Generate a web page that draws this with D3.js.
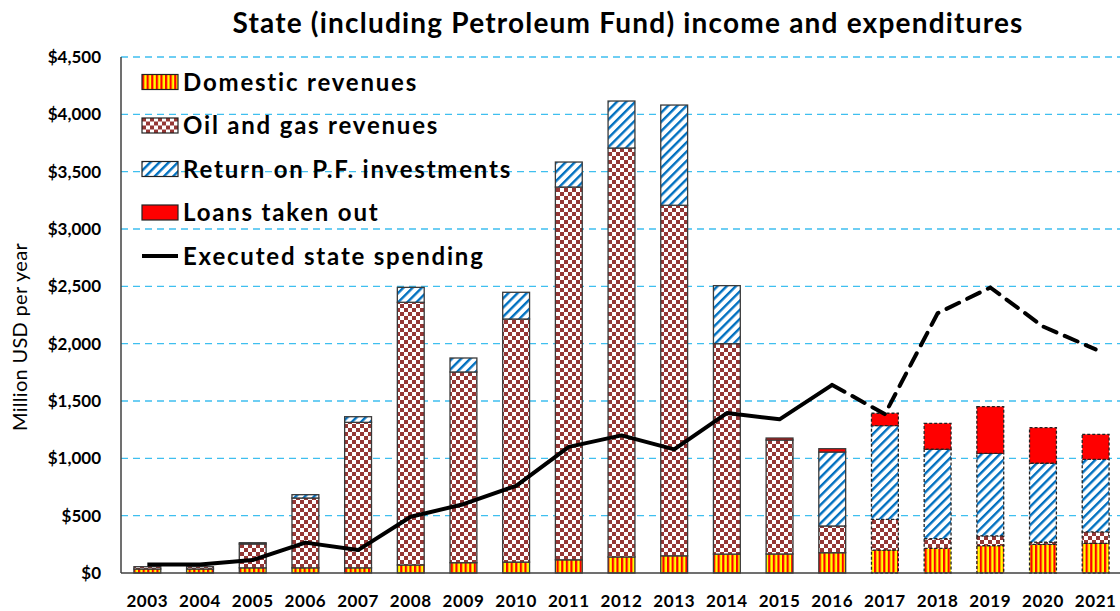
<!DOCTYPE html>
<html>
<head>
<meta charset="utf-8">
<script src="https://cdn.jsdelivr.net/npm/d3@7"></script>
<style>
  body { margin: 0; background: #fff; }
  svg { font-family: Lato, "Open Sans", sans-serif; }
</style>
</head>
<body>
<svg width="1120" height="611"></svg>
<script>
// data (million USD)
const years = ["2003","2004","2005","2006","2007","2008","2009","2010","2011","2012",
               "2013","2014","2015","2016","2017","2018","2019","2020","2021"];
const domestic = [35, 35, 45, 45, 45, 70, 90, 95, 115, 140, 150, 165, 166, 177, 200, 215, 238, 250, 259];
const oilGas   = [20, 20, 208, 609, 1269, 2291, 1663, 2120, 3251, 3566, 3057, 1835, 994, 233, 268, 84, 85, 20, 99];
const pfReturn = [0, 0, 11, 29, 49, 130, 122, 233, 218, 410, 874, 506, 0, 645, 817, 780, 721, 687, 633];
const loans    = [0, 0, 0, 0, 0, 0, 0, 0, 0, 0, 0, 0, 17, 29, 108, 226, 407, 310, 218];
const spending = [75, 75, 113, 265, 200, 490, 600, 760, 1100, 1200, 1078, 1395, 1340, 1640, 1385, 2265, 2490, 2150, 1950];
const firstProjected = "2017";
const yTicks = [0, 500, 1000, 1500, 2000, 2500, 3000, 3500, 4000, 4500];
const seriesNames = ["Domestic revenues", "Oil and gas revenues", "Return on P.F. investments", "Loans taken out"];

let svg = d3.select("svg");
let margin = {top: 57, bottom: 38, left: 121, right: -2};
const width = 1120;
const height = 611;

// patterns
let defs = svg.append("defs");
let pd = defs.append("pattern").attr("id", "pDom").attr("patternUnits", "userSpaceOnUse")
  .attr("width", 4.6).attr("height", 10);
pd.append("rect").attr("width", 4.6).attr("height", 10).attr("fill", "#ffff00");
pd.append("rect").attr("width", 2.2).attr("height", 10).attr("fill", "#ff0000");

let po = defs.append("pattern").attr("id", "pOil").attr("patternUnits", "userSpaceOnUse")
  .attr("width", 8).attr("height", 8);
po.append("rect").attr("width", 8).attr("height", 8).attr("fill", "#fff");
po.append("rect").attr("width", 4).attr("height", 4).attr("fill", "#953735");
po.append("rect").attr("x", 4).attr("y", 4).attr("width", 4).attr("height", 4).attr("fill", "#953735");

let pr = defs.append("pattern").attr("id", "pRet").attr("patternUnits", "userSpaceOnUse")
  .attr("width", 6.5).attr("height", 10).attr("patternTransform", "rotate(45)");
pr.append("rect").attr("width", 6.5).attr("height", 10).attr("fill", "#fff");
pr.append("rect").attr("width", 2.4).attr("height", 10).attr("fill", "#0070c0");

const fills = ["url(#pDom)", "url(#pOil)", "url(#pRet)", "#ff0000"];

// scales
let xScale = d3.scaleBand().domain(years).range([margin.left, width - margin.right]).paddingInner(0.49).paddingOuter(0.245);
let yScale = d3.scaleLinear().domain([0, 4500]).range([height - margin.bottom, margin.top]);

// grid
svg.append("g")
  .selectAll("line")
  .data(yTicks.filter(d => d > 0))
  .join("line")
    .attr("x1", margin.left).attr("x2", width)
    .attr("y1", d => yScale(d)).attr("y2", d => yScale(d))
    .attr("stroke", "#3fbfef").attr("stroke-width", 1.3)
    .attr("stroke-dasharray", "7,5");

// stacked bars
let rows = years.map((y, i) => ({year: y, d0: domestic[i], d1: oilGas[i], d2: pfReturn[i], d3: loans[i]}));
let stack = d3.stack().keys(["d0", "d1", "d2", "d3"])(rows);

svg.append("g")
  .selectAll("g")
  .data(stack)
  .join("g")
    .attr("fill", (s, i) => fills[i])
  .selectAll("rect")
  .data(s => s.filter(d => d[1] - d[0] > 0))
  .join("rect")
    .attr("x", d => xScale(d.data.year))
    .attr("width", xScale.bandwidth())
    .attr("y", d => yScale(d[1]))
    .attr("height", d => yScale(d[0]) - yScale(d[1]))
    .attr("stroke", d => +d.data.year >= +firstProjected ? "#222" : "#3a3a3a")
    .attr("stroke-width", 1.3)
    .attr("stroke-dasharray", d => +d.data.year >= +firstProjected ? "3,2" : null);

// axes lines
let y0 = yScale(0);
svg.append("line").attr("x1", margin.left).attr("x2", width).attr("y1", y0).attr("y2", y0)
  .attr("stroke", "#404040").attr("stroke-width", 1.5);
svg.append("line").attr("x1", margin.left).attr("x2", margin.left).attr("y1", yScale(4500)).attr("y2", y0)
  .attr("stroke", "#404040").attr("stroke-width", 1.5);

// spending line: solid to 2016, dashed after
let line = d3.line()
  .x(d => xScale(d.year) + xScale.bandwidth() / 2)
  .y(d => yScale(d.v));
let pts = years.map((y, i) => ({year: y, v: spending[i]}));
let cut = years.indexOf(firstProjected);
svg.append("path").datum(pts.slice(0, cut))
  .attr("d", line).attr("fill", "none").attr("stroke", "#000").attr("stroke-width", 4)
  .attr("stroke-linejoin", "round");
svg.append("path").datum(pts.slice(cut - 1))
  .attr("d", line).attr("fill", "none").attr("stroke", "#000").attr("stroke-width", 4)
  .attr("stroke-dasharray", "14,9").attr("stroke-linecap", "round");

// y tick labels
svg.append("g")
  .selectAll("text")
  .data(yTicks)
  .join("text")
    .attr("x", 101).attr("y", d => yScale(d) + 6)
    .attr("text-anchor", "end")
    .attr("font-size", 17).attr("font-weight", "bold")
    .text(d => "$" + d3.format(",")(d));

// x tick labels
svg.append("g")
  .selectAll("text")
  .data(years)
  .join("text")
    .attr("x", d => xScale(d) + xScale.bandwidth() / 2).attr("y", 607)
    .attr("text-anchor", "middle")
    .attr("font-size", 17).attr("font-weight", "bold").attr("letter-spacing", 0.6)
    .text(d => d);

// titles
svg.append("text").attr("x", 628).attr("y", 33).attr("text-anchor", "middle")
  .attr("font-size", 28).attr("font-weight", "bold").attr("letter-spacing", 1.2)
  .text("State (including Petroleum Fund) income and expenditures");
svg.append("text").attr("transform", "translate(27,337) rotate(-90)").attr("text-anchor", "middle")
  .attr("font-size", 20).attr("letter-spacing", 0.3).text("Million USD per year");

// legend
let legend = svg.append("g").attr("transform", "translate(142,82)");
seriesNames.forEach((n, i) => {
  let g = legend.append("g").attr("transform", `translate(0, ${i * 43.5})`);
  g.append("rect").attr("x", 0).attr("y", -7.5).attr("width", 36).attr("height", 15)
    .attr("fill", fills[i]).attr("stroke", "#222").attr("stroke-width", 1.2);
  g.append("text").attr("x", 41).attr("y", 8.5).attr("font-size", 24).attr("font-weight", "bold")
    .attr("letter-spacing", 1.8).text(n);
});
let lg = legend.append("g").attr("transform", `translate(0, ${4 * 43.5})`);
lg.append("line").attr("x1", 0).attr("x2", 36).attr("stroke", "#000").attr("stroke-width", 4);
lg.append("text").attr("x", 41).attr("y", 8.5).attr("font-size", 24).attr("font-weight", "bold")
  .attr("letter-spacing", 1.8).text("Executed state spending");
</script>
</body>
</html>
